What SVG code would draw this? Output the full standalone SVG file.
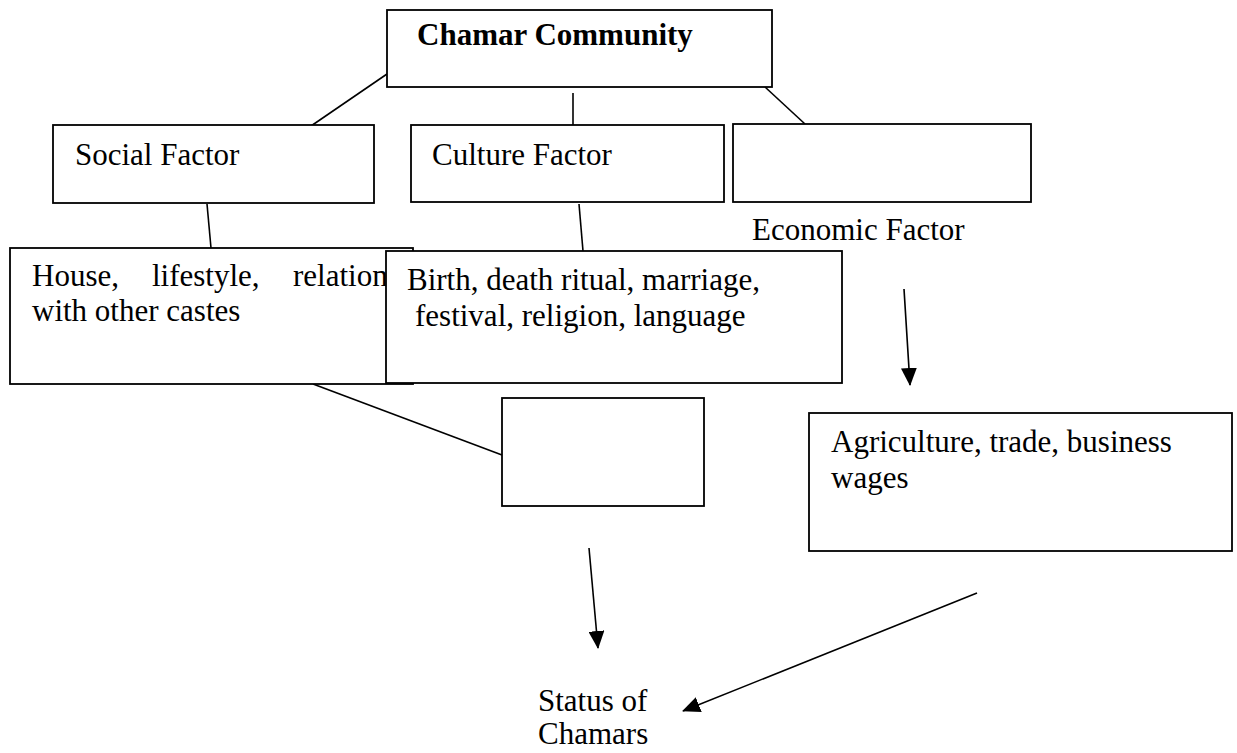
<svg xmlns="http://www.w3.org/2000/svg" width="1237" height="753" viewBox="0 0 1237 753">
<style>
  .box { fill: #fff; stroke: #000; stroke-width: 1.8; }
  .t { font-family: "Liberation Serif", "Times New Roman", serif; font-size: 31px; fill: #000; }
  .b { font-weight: bold; }
  .ln { stroke: #000; stroke-width: 1.6; fill: none; }
</style>
<defs>
  <marker id="arr" viewBox="0 0 18 16" refX="17" refY="8" markerWidth="18" markerHeight="16" orient="auto" markerUnits="userSpaceOnUse">
    <path d="M0,0 L18,8 L0,16 Z" fill="#000"/>
  </marker>
</defs>
<rect width="1237" height="753" fill="#fff"/>

<g id="connectors">
  <line class="ln" x1="387" y1="74" x2="311" y2="126"/>
  <line class="ln" x1="573" y1="93" x2="573" y2="125"/>
  <line class="ln" x1="765" y1="87" x2="805" y2="124"/>
  <line class="ln" x1="207" y1="204" x2="211" y2="248"/>
  <line class="ln" x1="579" y1="204" x2="583" y2="251"/>
  <line class="ln" x1="313" y1="384" x2="502" y2="455"/>
  <line class="ln" x1="904" y1="289" x2="910" y2="385" marker-end="url(#arr)"/>
  <line class="ln" x1="589" y1="548" x2="598" y2="648" marker-end="url(#arr)"/>
  <line class="ln" x1="977" y1="593" x2="683" y2="711" marker-end="url(#arr)"/>
</g>

<g id="chamar-community">
  <rect class="box" x="387" y="10" width="385" height="77"/>
  <text class="t b" x="417" y="45">Chamar Community</text>
</g>

<g id="social-factor">
  <rect class="box" x="53" y="125" width="321" height="78"/>
  <text class="t" x="75" y="165">Social Factor</text>
</g>

<g id="culture-factor">
  <rect class="box" x="411" y="125" width="313" height="77"/>
  <text class="t" x="432" y="165">Culture Factor</text>
</g>

<g id="economic-factor">
  <rect class="box" x="733" y="124" width="298" height="78"/>
  <text class="t" x="752" y="240">Economic Factor</text>
</g>

<g id="social-details">
  <rect class="box" x="10" y="248" width="403" height="136"/>
  <text class="t"><tspan x="32" y="286">House,</tspan><tspan x="152" y="286">lifestyle,</tspan><tspan x="293" y="286">relation</tspan><tspan x="32" y="321">with other castes</tspan></text>
</g>

<g id="culture-details">
  <rect class="box" x="386" y="251" width="456" height="132"/>
  <text class="t"><tspan x="407" y="290">Birth, death ritual, marriage,</tspan><tspan x="415" y="326">festival, religion, language</tspan></text>
</g>

<g id="empty-box">
  <rect class="box" x="502" y="398" width="202" height="108"/>
</g>

<g id="economic-details">
  <rect class="box" x="809" y="413" width="423" height="138"/>
  <text class="t"><tspan x="831" y="452">Agriculture, trade, business</tspan><tspan x="831" y="488">wages</tspan></text>
</g>

<g id="status">
  <text class="t"><tspan x="538" y="711">Status of</tspan><tspan x="538" y="744">Chamars</tspan></text>
</g>
</svg>
